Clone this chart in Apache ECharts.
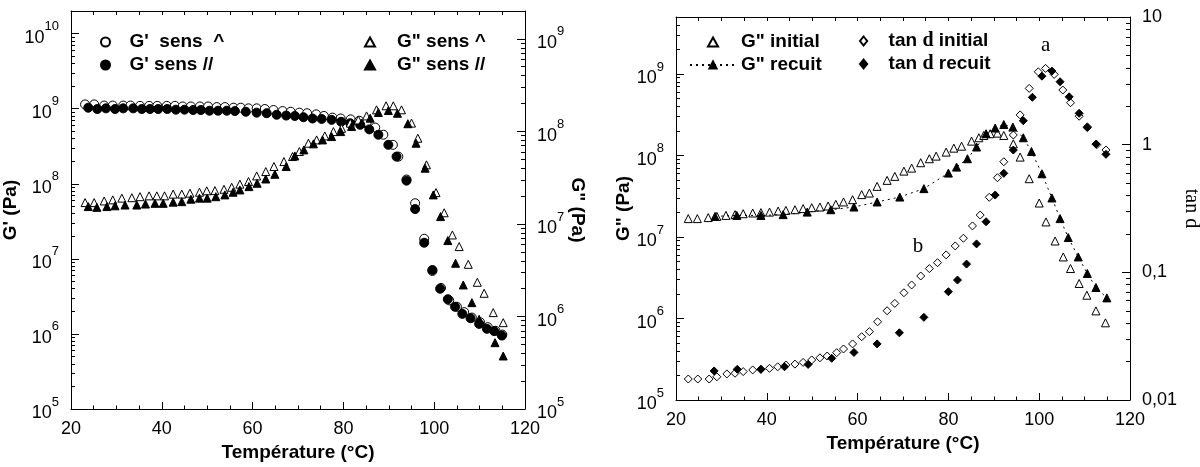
<!DOCTYPE html>
<html><head><meta charset="utf-8">
<script src="https://cdn.jsdelivr.net/npm/echarts@6/dist/echarts.min.js"></script>
<style>html,body{margin:0;padding:0;background:#fff}#c{width:1200px;height:467px}</style>
</head><body><div id="c"></div>
<script>
// ---------- Left panel data ----------
const gpOpenT = [23.1,25.1,27.3,29.2,31.5,33.1,35.2,37.2,39.0,41.1,42.9,44.6,46.4,48.4,50.2,52.1,53.9,55.8,57.4,59.1,60.9,62.7,64.6,66.6,68.4,70.3,72.0,74.0,75.7,77.6,79.4,81.6,83.5,85.1,87.0,88.8,90.9,92.1,93.9,95.8,97.8,99.6,101.5,103.3,105.0,106.6,108.3,110.1,111.8,113.5,115.0];
const gpOpenV = [1.14e9,1.14e9,1.10e9,1.10e9,1.10e9,1.10e9,1.09e9,1.09e9,1.09e9,1.09e9,1.09e9,1.07e9,1.07e9,1.07e9,1.07e9,1.05e9,1.05e9,1.03e9,1.03e9,1.01e9,1.01e9,9.9e8,9.6e8,9.3e8,9.1e8,8.85e8,8.7e8,8.4e8,8.0e8,7.6e8,7.4e8,7.2e8,6.9e8,6.4e8,5.6e8,4.5e8,3.3e8,2.3e8,1.14e8,5.5e7,1.85e7,6.9e6,4.1e6,2.8e6,2.3e6,1.95e6,1.65e6,1.43e6,1.23e6,1.1e6,9.8e5];
const gpFillT = [23.8,25.8,27.7,29.7,31.5,33.7,35.6,37.4,39.2,41.2,43.1,45.0,46.9,48.6,50.5,52.4,54.3,56.1,58.5,60.9,63.1,65.3,67.4,69.3,71.2,73.2,75.2,77.4,79.5,81.5,83.7,85.7,87.7,89.9,91.7,93.9,95.8,97.8,99.6,101.3,103.0,104.6,106.2,108.0,109.9,111.6,113.2,114.9];
const gpFillV = [1.03e9,9.9e8,1.01e9,9.9e8,1.01e9,1.01e9,9.9e8,9.9e8,9.9e8,9.9e8,9.7e8,9.7e8,9.6e8,9.6e8,9.4e8,9.4e8,9.4e8,9.3e8,9.1e8,8.85e8,8.7e8,8.3e8,8.1e8,8.0e8,7.7e8,7.4e8,7.3e8,7.1e8,6.7e8,6.4e8,6.1e8,5.3e8,4.5e8,3.3e8,2.3e8,1.1e8,4.6e7,1.64e7,7.1e6,4.0e6,2.9e6,2.3e6,1.85e6,1.62e6,1.36e6,1.17e6,1.09e6,9.5e5];
const gsOpenT = [23.1,25.1,27.3,29.2,31.2,33.4,35.2,37.2,38.9,40.6,42.5,44.4,46.2,48.3,49.9,51.7,53.7,55.4,57.2,59.1,60.9,62.9,64.7,66.9,68.8,70.3,72.3,74.1,75.9,77.8,79.6,81.5,83.3,85.1,87.3,89.4,91.0,92.8,95.0,96.4,98.3,100.4,102.2,104.0,105.5,107.5,109.5,111.0,113.0,115.2];
const gsOpenV = [1.70e7,1.70e7,1.77e7,1.82e7,1.90e7,1.92e7,1.97e7,2.01e7,2.01e7,2.01e7,2.10e7,2.10e7,2.15e7,2.20e7,2.28e7,2.29e7,2.37e7,2.49e7,2.69e7,2.87e7,3.30e7,3.68e7,4.17e7,4.72e7,5.35e7,6.06e7,7.45e7,8.09e7,8.94e7,9.95e7,1.08e8,1.23e8,1.33e8,1.47e8,1.71e8,1.89e8,1.89e8,1.71e8,1.23e8,8.43e7,4.35e7,2.18e7,1.32e7,7.6e6,5.69e6,3.66e6,2.34e6,1.78e6,1.10e6,8.57e5];
const gsFillT = [23.8,25.7,27.9,29.7,31.9,34.5,36.4,38.5,40.3,42.5,44.4,46.4,48.3,50.0,51.9,53.9,55.7,57.2,59.2,61.0,62.9,64.9,67.4,69.3,71.3,73.4,75.4,77.4,79.4,81.8,84.0,85.9,87.7,89.9,91.9,94.2,96.0,98.0,99.8,101.4,103.0,104.7,106.4,108.3,109.9,113.4,115.2];
const gsFillV = [1.54e7,1.51e7,1.54e7,1.57e7,1.60e7,1.60e7,1.64e7,1.67e7,1.67e7,1.72e7,1.74e7,1.85e7,1.90e7,1.90e7,1.97e7,2.06e7,2.20e7,2.33e7,2.53e7,2.75e7,3.06e7,3.44e7,4.17e7,5.43e7,6.31e7,7.33e7,8.09e7,8.79e7,9.95e7,1.13e8,1.23e8,1.39e8,1.60e8,1.68e8,1.57e8,1.21e8,7.45e7,4.00e7,2.06e7,1.20e7,6.61e6,3.76e6,2.19e6,1.41e6,9.33e5,5.21e5,3.74e5];

// ---------- Right panel data ----------
const giniT = [22.7,24.7,27.1,29.0,31.0,33.0,34.8,36.9,38.7,40.6,42.5,44.2,46.2,48.0,49.9,51.7,53.5,55.2,56.9,58.9,60.9,62.6,64.3,66.5,68.2,70.2,71.9,73.9,75.8,77.3,79.5,81.2,82.9,85.1,86.7,87.8,89.2,90.8,92.2,94.3,95.8,97.8,100.0,101.5,103.5,105.3,106.9,108.8,110.5,112.5,114.6];
const giniV = [1.68e7,1.68e7,1.73e7,1.79e7,1.84e7,1.88e7,1.93e7,1.97e7,1.99e7,2.02e7,2.08e7,2.12e7,2.16e7,2.23e7,2.29e7,2.33e7,2.40e7,2.52e7,2.69e7,2.87e7,3.31e7,3.46e7,4.18e7,4.95e7,5.54e7,6.43e7,7.00e7,8.15e7,9.12e7,9.82e7,1.10e8,1.23e8,1.30e8,1.50e8,1.65e8,1.76e8,1.85e8,1.88e8,1.76e8,1.39e8,9.55e7,5.19e7,2.61e7,1.53e7,8.93e6,5.69e6,4.10e6,2.69e6,1.93e6,1.24e6,8.85e5];
const grecT = [28.6,33.4,38.7,43.6,48.9,54.1,59.2,64.3,69.3,74.6,80.0,81.8,84.2,86.2,88.3,90.3,92.2,94.2,96.5,98.3,100.6,102.8,104.6,106.4,108.6,110.6,112.5,114.9];
const grecV = [1.79e7,1.84e7,1.84e7,1.88e7,2.02e7,2.16e7,2.33e7,2.69e7,3.09e7,3.92e7,6.08e7,7.20e7,9.12e7,1.27e8,1.85e8,2.17e8,2.40e8,2.23e8,1.65e8,1.12e8,5.97e7,3.01e7,1.68e7,9.84e6,5.69e6,3.57e6,2.40e6,1.79e6];
const tdiniT = [22.7,24.8,27.3,29.0,31.2,33.0,34.8,36.9,38.7,40.6,42.4,44.2,46.2,48.0,49.9,51.7,53.3,55.4,56.9,58.9,60.9,62.6,64.4,66.5,68.2,70.2,71.9,73.9,75.8,77.6,79.5,81.5,83.3,85.3,87.0,89.0,90.8,92.2,94.3,95.8,97.8,99.8,101.4,103.3,105.2,106.9,108.8,110.6,112.7,114.7];
const tdiniV = [0.0146,0.0146,0.0146,0.0152,0.0160,0.0162,0.0167,0.0172,0.0174,0.0177,0.0182,0.0188,0.0191,0.0197,0.0206,0.0214,0.0221,0.0235,0.0251,0.0275,0.0313,0.0343,0.0410,0.0500,0.0571,0.0692,0.0796,0.0936,0.107,0.119,0.137,0.161,0.185,0.231,0.281,0.387,0.551,0.735,1.19,1.71,2.76,3.72,3.96,3.55,2.68,2.13,1.67,1.38,1.0,0.908];
const tdrecT = [28.4,33.5,38.7,43.9,49.1,54.3,59.2,64.3,69.2,74.6,80.0,82.0,84.0,86.2,88.3,90.3,92.2,94.3,96.5,98.5,100.6,102.8,104.6,106.6,108.8,110.6,112.5,114.7];
const tdrecV = [0.0169,0.0174,0.0174,0.0182,0.0190,0.0212,0.0236,0.0275,0.0336,0.0444,0.0705,0.0870,0.116,0.167,0.249,0.403,0.596,0.908,1.54,2.35,3.44,3.77,3.11,2.37,1.76,1.36,1.01,0.840];
const annotations = [['a', 101.4, 6.0], ['b', 73.3, 0.158]];

// ---------- Tick values ----------
const decadesGp = [1e5, 1e6, 1e7, 1e8, 1e9, 1e10];
const decadesGs = [1e5, 1e6, 1e7, 1e8, 1e9];
const decadesTd = [0.01, 0.1, 1, 10];
const tdLabels = ['0,01', '0,1', '1', '10'];

function minors(decs, top) {
  const out = [];
  decs.forEach(d => { for (let k = 2; k <= 9; k++) { const v = d * k; if (v <= top * 1.0001) out.push(v); } });
  return out;
}
const zip = (a, b) => a.map((t, i) => [t, b[i]]);

const FONT = "'Liberation Sans', Arial, sans-serif";
const SERIF = "'Liberation Serif', 'Times New Roman', serif";
const BLACK = '#000';
const TICKFS = 18, NAMEFS = 19;

const supFmt = v => '{b|10}{s|' + Math.round(Math.log10(v)) + '}';
const supRich = {
  b: { fontSize: TICKFS, fontFamily: FONT, color: BLACK, lineHeight: 27, verticalAlign: 'bottom' },
  s: { fontSize: 13, fontFamily: FONT, color: BLACK, lineHeight: 14, verticalAlign: 'top' }
};

function logMain(grid, pos, min, max, decs, name, nameGap, nameRotate, formatter, rich, nameFont) {
  return {
    type: 'log', gridIndex: grid, position: pos, min: min, max: max, logBase: 10,
    axisLine: { show: true, lineStyle: { color: BLACK, width: 1 } },
    axisTick: { show: true, inside: true, length: 8, customValues: decs, lineStyle: { color: BLACK } },
    minorTick: { show: false },
    splitLine: { show: false },
    axisLabel: { show: true, customValues: decs, formatter: formatter, rich: rich, margin: 12,
      fontSize: TICKFS, fontFamily: FONT, color: BLACK },
    name: name, nameLocation: 'middle', nameGap: nameGap, nameRotate: nameRotate,
    nameTextStyle: nameFont
  };
}
function logMinor(grid, pos, min, max, vals) {
  return {
    type: 'log', gridIndex: grid, position: pos, min: min, max: max, logBase: 10,
    axisLine: { show: false },
    axisTick: { show: true, inside: true, length: 4, customValues: vals, lineStyle: { color: BLACK } },
    axisLabel: { show: false }, splitLine: { show: false }
  };
}
function xBottom(grid, nameGap) {
  return {
    type: 'value', gridIndex: grid, position: 'bottom', min: 20, max: 120, interval: 20,
    axisLine: { show: true, onZero: false, lineStyle: { color: BLACK } },
    axisTick: { show: true, inside: true, length: 7, lineStyle: { color: BLACK } },
    minorTick: { show: true, splitNumber: 4, length: 3.5, lineStyle: { color: BLACK } },
    splitLine: { show: false },
    axisLabel: { margin: 11, fontSize: TICKFS, fontFamily: FONT, color: BLACK },
    name: 'Température (°C)', nameLocation: 'middle', nameGap: nameGap,
    nameTextStyle: { fontSize: NAMEFS, fontWeight: 'bold', fontFamily: FONT, color: BLACK }
  };
}
function xTop(grid) {
  return {
    type: 'value', gridIndex: grid, position: 'top', min: 20, max: 120, interval: 5,
    axisLine: { show: true, onZero: false, lineStyle: { color: BLACK } },
    axisTick: { show: true, inside: true, length: 4, lineStyle: { color: BLACK } },
    splitLine: { show: false }, axisLabel: { show: false }
  };
}
const boldName = { fontSize: NAMEFS, fontWeight: 'bold', fontFamily: FONT, color: BLACK };

const openStyle = { color: '#fff', borderColor: BLACK, borderWidth: 1, opacity: 1 };
const fillStyle = { color: BLACK, borderColor: BLACK, borderWidth: 1, opacity: 1 };

function scatter(name, xi, yi, data, symbol, size, style) {
  return { name: name, type: 'scatter', xAxisIndex: xi, yAxisIndex: yi, data: data,
    symbol: symbol, symbolSize: size, itemStyle: style, emphasis: { disabled: true } };
}

const TRI_ICON = 'path://M5,0L10,9L0,9Z';
const DIA_ICON = 'path://M4,0L8,5L4,10L0,5Z';
const legText = { fontSize: NAMEFS, fontWeight: 'bold', fontFamily: FONT, color: BLACK, lineHeight: 20 };
function legend(items, left, top, itemWidth, extra) {
  return Object.assign({ data: items, orient: 'vertical', left: left, top: top, itemWidth: itemWidth,
    itemHeight: 9, itemGap: 3, selectedMode: false, symbolKeepAspect: true,
    textStyle: legText, padding: 0 }, extra || {});
}

const tdSeries = scatter('tan d initial', 2, 6, zip(tdiniT, tdiniV), 'diamond', 8, openStyle);
tdSeries.markPoint = {
  symbol: 'circle', symbolSize: 1, itemStyle: { color: 'rgba(0,0,0,0)' },
  label: { show: true, formatter: '{b}', position: 'inside', fontSize: 21, fontFamily: SERIF, color: BLACK },
  data: annotations.map(a => ({ name: a[0], coord: [a[1], a[2]] }))
};

const option = {
  animation: false,
  backgroundColor: '#fff',
  grid: [
    { left: 71, top: 11, width: 454, height: 398, outerBoundsMode: 'none' },
    { left: 676, top: 17, width: 454, height: 383, outerBoundsMode: 'none' }
  ],
  xAxis: [xBottom(0, 25), xTop(0), xBottom(1, 31), xTop(1)],
  yAxis: [
    logMain(0, 'left', 1e5, 2e10, decadesGp, "G' (Pa)", 39, 90, supFmt, supRich, boldName),
    logMinor(0, 'left', 1e5, 2e10, minors(decadesGp, 2e10)),
    logMain(0, 'right', 1e5, 2e9, decadesGs, 'G" (Pa)', 42, -90, supFmt, supRich, boldName),
    logMinor(0, 'right', 1e5, 2e9, minors(decadesGs, 2e9)),
    logMain(1, 'left', 1e5, 5e9, decadesGs, 'G" (Pa)', 39, 90, supFmt, supRich, boldName),
    logMinor(1, 'left', 1e5, 5e9, minors(decadesGs, 5e9)),
    logMain(1, 'right', 0.01, 10, decadesTd, 'tan d', 46, -90,
      v => tdLabels[decadesTd.findIndex(d => Math.abs(d - v) / d < 1e-6)] || '', undefined,
      { fontSize: 20, fontFamily: SERIF, color: BLACK }),
    logMinor(1, 'right', 0.01, 10, minors(decadesTd, 10))
  ],
  legend: [
    legend([{ name: "G'  sens  ^", icon: 'circle' }, { name: "G' sens //", icon: 'circle' }], 100, 32, 38),
    legend([{ name: 'G" sens ^', icon: TRI_ICON }, { name: 'G" sens //', icon: TRI_ICON }], 364, 32, 44),
    legend([{ name: 'G" initial', icon: TRI_ICON }, { name: 'G" recuit' }], 689, 32, 46),
    legend([{ name: 'tan d initial', icon: DIA_ICON }, { name: 'tan d recuit', icon: DIA_ICON }], 859, 31, 40, {
      formatter: n => n.replace('tan d', '{b|tan }{s|d}{b|').concat('}'),
      textStyle: Object.assign({}, legText, { rich: {
        b: { fontSize: NAMEFS, fontWeight: 'bold', fontFamily: FONT, color: BLACK },
        s: { fontSize: 20, fontFamily: SERIF, color: BLACK }
      } })
    })
  ],
  series: [
    scatter("G'  sens  ^", 0, 0, zip(gpOpenT, gpOpenV), 'circle', 9, openStyle),
    scatter("G' sens //", 0, 0, zip(gpFillT, gpFillV), 'circle', 9, fillStyle),
    scatter('G" sens ^', 0, 2, zip(gsOpenT, gsOpenV), 'triangle', 8, openStyle),
    scatter('G" sens //', 0, 2, zip(gsFillT, gsFillV), 'triangle', 8, fillStyle),
    scatter('G" initial', 2, 4, zip(giniT, giniV), 'triangle', 8, openStyle),
    { name: 'G" recuit', type: 'line', xAxisIndex: 2, yAxisIndex: 4, data: zip(grecT, grecV),
      symbol: 'triangle', symbolSize: 8, showSymbol: true, itemStyle: fillStyle,
      lineStyle: { color: BLACK, width: 1, type: [2, 4] }, emphasis: { disabled: true } },
    tdSeries,
    scatter('tan d recuit', 2, 6, zip(tdrecT, tdrecV), 'diamond', 8, fillStyle)
  ]
};
const chart = echarts.init(document.getElementById('c'), null, { renderer: 'canvas' });
chart.setOption(option);
</script></body></html>
